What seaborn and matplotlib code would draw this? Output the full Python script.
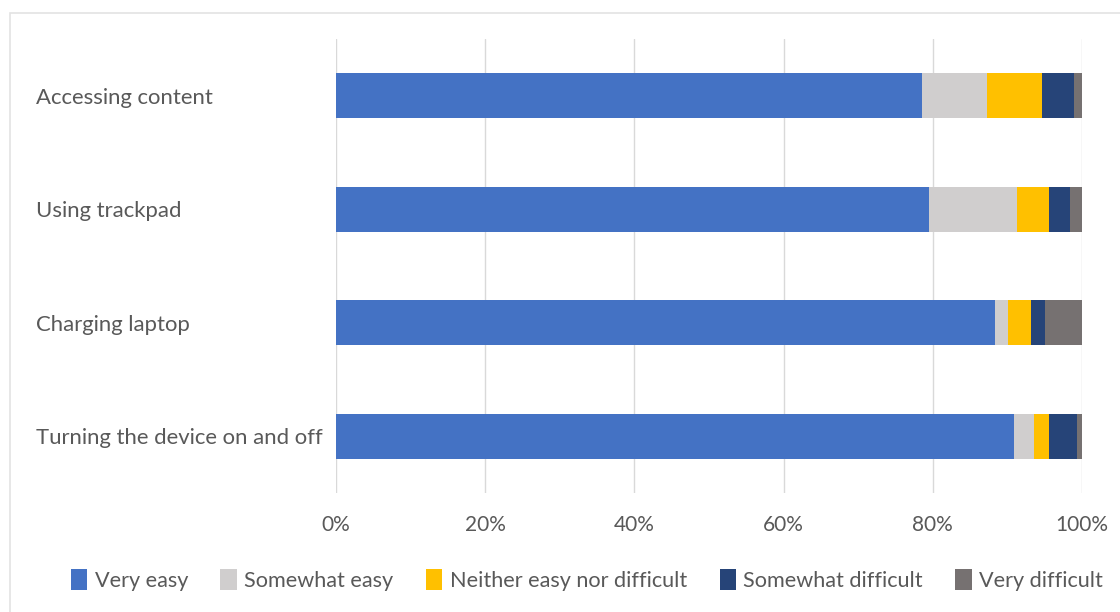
import matplotlib
matplotlib.use("Agg")
import matplotlib.pyplot as plt
import seaborn as sns
import pandas as pd
import numpy as np
from matplotlib.patches import Rectangle
from matplotlib.ticker import PercentFormatter

categories = ["Accessing content", "Using trackpad", "Charging laptop",
              "Turning the device on and off"]
series = ["Very easy", "Somewhat easy", "Neither easy nor difficult",
          "Somewhat difficult", "Very difficult"]
very_easy = [78.5, 79.5, 88.4, 90.9]
somewhat_easy = [8.7, 11.8, 1.7, 2.7]
neither = [7.4, 4.3, 3.1, 2.0]
somewhat_difficult = [4.3, 2.8, 1.9, 3.7]
very_difficult = [1.1, 1.6, 4.9, 0.7]
colors = ["#4472C4", "#D0CECE", "#FFC000", "#264478", "#767171"]

sns.set_theme(style="white")
plt.rcParams['font.family'] = ['Lato', 'DejaVu Sans']
text_color = "#595959"

values = [very_easy, somewhat_easy, neither, somewhat_difficult, very_difficult]
cum = np.cumsum(np.array(values), axis=0)

fig = plt.figure(figsize=(11.2, 6.12), dpi=100)
ax = fig.add_axes([336/1120, 1-493/612, (1082-336)/1120, (493-39)/612])

for i in range(len(series)-1, -1, -1):
    df = pd.DataFrame({"category": categories, "value": cum[i]})
    sns.barplot(data=df, x="value", y="category", orient="h", color=colors[i],
                width=0.4, ax=ax, label=series[i], saturation=1, linewidth=0)

if ax.get_legend() is not None:
    ax.get_legend().remove()

ax.set_xlim(0, 100)
ax.set_ylim(3.5, -0.5)
ax.set_xticks([0, 20, 40, 60, 80, 100])
ax.xaxis.set_major_formatter(PercentFormatter(decimals=0))
ax.set_xlabel("")
ax.set_ylabel("")
ax.grid(axis="x", color="#D9D9D9", linewidth=1)
ax.set_axisbelow(True)
for s in ax.spines.values():
    s.set_visible(False)
ax.tick_params(axis="x", colors=text_color, labelsize=15, length=0, pad=16)
ax.tick_params(axis="y", colors=text_color, labelsize=15.9, length=0, pad=216)
for lab in ax.get_yticklabels():
    lab.set_ha("left")
for lab in ax.get_xticklabels():
    lab.set_color(text_color)

handles, labels = ax.get_legend_handles_labels()
order = [labels.index(s) for s in series]
leg = fig.legend([handles[k] for k in order], [labels[k] for k in order],
                 loc="center", bbox_to_anchor=(587/1120, 1-580/612), ncol=5,
                 frameon=False, fontsize=15.6, handlelength=0.75, handleheight=1.1,
                 handletextpad=0.35, columnspacing=1.5, labelcolor=text_color)

fig.patches.append(Rectangle((10/1120, -0.1), 1.2, 1-13/612+0.1,
                             transform=fig.transFigure, fill=False,
                             edgecolor="#E3E3E3", linewidth=1.2))

fig.savefig("out.png", dpi=100, facecolor="white")
